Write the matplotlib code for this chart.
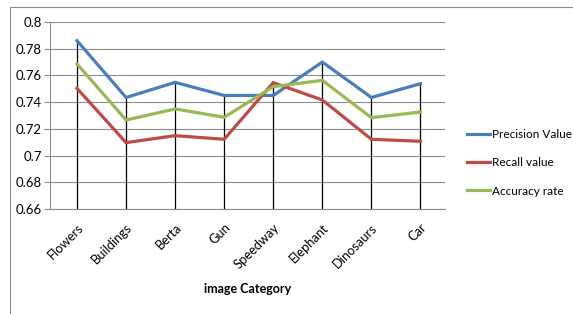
import matplotlib
matplotlib.use("Agg")
import matplotlib.pyplot as plt
from matplotlib.patches import Rectangle
import matplotlib.transforms as mtransforms

categories = ["Flowers", "Buildings", "Berta", "Gun", "Speedway", "Elephant", "Dinosaurs", "Car"]
precision = [0.786, 0.7435, 0.7548, 0.745, 0.745, 0.770, 0.7435, 0.7538]
recall = [0.7503, 0.7097, 0.7149, 0.7122, 0.7546, 0.7416, 0.7122, 0.7107]
accuracy = [0.7686, 0.7266, 0.7349, 0.7287, 0.7516, 0.7563, 0.7284, 0.7326]
series_names = ["Precision Value", "Recall value", "Accuracy rate"]
yticks = [0.66, 0.68, 0.7, 0.72, 0.74, 0.76, 0.78, 0.8]
ytick_labels = ["0.66", "0.68", "0.7", "0.72", "0.74", "0.76", "0.78", "0.8"]

plt.rcParams['font.family'] = ['Lato', 'DejaVu Sans']
fig = plt.figure(figsize=(5.73, 3.14), dpi=100)
fig.patches.append(Rectangle((10/573, -0.1), 1.2, 1.1 - 7/314,
                             transform=fig.transFigure, fill=False,
                             edgecolor='#8c8c8c', linewidth=0.8))
ax = fig.add_axes([50/573, 1-209/314, 395/573, 187/314])

x = list(range(len(categories)))
colors = ['#4A7EBB', '#BE4B48', '#98B954']
for i in x:
    top = max(precision[i], recall[i], accuracy[i])
    ax.plot([i, i], [0.66, top], color='black', lw=0.9, zorder=2)
for vals, c, name in zip([precision, recall, accuracy], colors, series_names):
    ax.plot(x, vals, color=c, lw=2.3, label=name, zorder=3, solid_joinstyle='miter')

ax.set_xlim(-0.55, 7.5)
ax.set_ylim(0.66, 0.8)
ax.set_yticks(yticks)
ax.set_yticklabels(ytick_labels, fontsize=9.5)
ax.yaxis.grid(True, color='#8c8c8c', lw=0.8)
ax.set_axisbelow(True)
ax.set_xticks(x)
ax.set_xticklabels(categories, rotation=45, ha='right', rotation_mode='anchor', fontsize=9.3)
offset = mtransforms.ScaledTranslation(6/100, 0, fig.dpi_scale_trans)
for lbl in ax.get_xticklabels():
    lbl.set_transform(lbl.get_transform() + offset)
ax.tick_params(axis='x', length=0, pad=9)
ax.tick_params(axis='y', length=4, color='#8c8c8c', pad=2)
for s in ['top', 'right']:
    ax.spines[s].set_visible(False)
ax.spines['left'].set_color('#8c8c8c')
ax.spines['bottom'].set_color('#8c8c8c')
ax.set_xlabel("image Category", fontsize=9, fontweight='bold', labelpad=9)

leg = fig.legend(loc='center left', bbox_to_anchor=(456/573, 1-163/314), frameon=False,
                 fontsize=8.5, handlelength=2.0, handletextpad=0.15, labelspacing=1.45)
fig.savefig("out.png", dpi=100)
